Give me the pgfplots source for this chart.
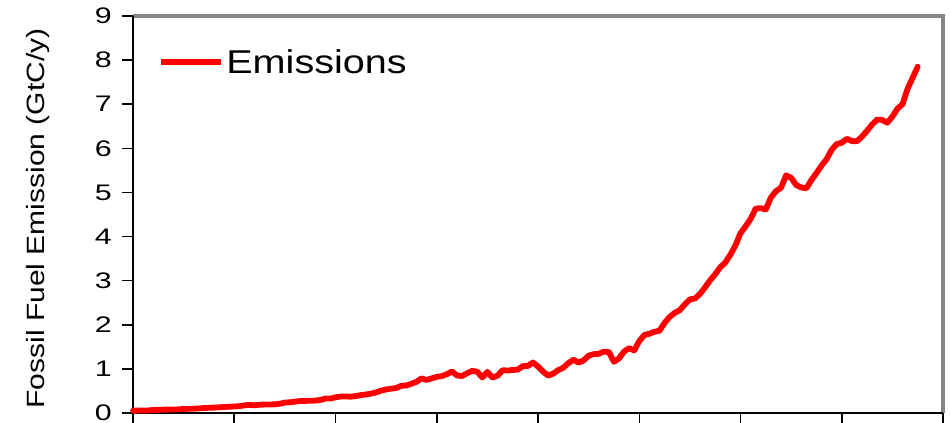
\documentclass[border=0pt]{standalone}
\usepackage{pgfplots}
\pgfplotsset{compat=1.18}
\usepackage{fontspec}
\setmainfont[FakeStretch=1.2]{Liberation Sans}
\newfontfamily\tickfont[FakeStretch=1.35]{Liberation Sans}
\begin{document}
\begin{tikzpicture}
\begin{axis}[
  scale only axis, width=810pt, height=397pt,
  xmin=1850, xmax=2010, ymin=0, ymax=9,
  xtick={1850,1870,...,2010}, xticklabels={},
  ytick={0,1,...,9},
  xtick pos=bottom, ytick pos=left,
  tick align=outside, major tick length=11pt,
  tick style={black, line width=1.5pt},
  axis line style={draw=none},
  clip=false,
  /pgf/number format/assume math mode=true,
  yticklabel style={font=\tickfont\fontsize{22.5}{26}\selectfont, inner sep=0pt, xshift=-10pt},
  ylabel={Fossil Fuel Emission (GtC/y)},
  ylabel style={font=\fontsize{25}{30}\selectfont, at={([xshift=-88pt]rel axis cs:0,0.49)}, anchor=base},
  legend style={draw=none, fill=none, at={(rel axis cs:0.031,0.884)}, anchor=west, inner sep=0pt,
    font=\fontsize{33}{40}\selectfont},
  legend image code/.code={\draw[#1, line width=6pt, line cap=butt] (0pt,0pt) -- (60pt,0pt);},
]
\draw[color=gray!95, line width=4pt] (rel axis cs:0,1) -- (rel axis cs:1,1) -- (rel axis cs:1,0);
\draw[black, line width=2.5pt] (rel axis cs:0,1) -- (rel axis cs:0,0) -- (rel axis cs:1,0);
\addplot[red, line width=5.8pt, line join=round, line cap=round] table {
1850 0.054
1851 0.054
1852 0.057
1853 0.059
1854 0.069
1855 0.071
1856 0.076
1857 0.077
1858 0.078
1859 0.083
1860 0.091
1861 0.095
1862 0.097
1863 0.104
1864 0.112
1865 0.119
1866 0.122
1867 0.130
1868 0.135
1869 0.142
1870 0.147
1871 0.156
1872 0.173
1873 0.184
1874 0.174
1875 0.188
1876 0.191
1877 0.194
1878 0.196
1879 0.210
1880 0.236
1881 0.243
1882 0.256
1883 0.272
1884 0.275
1885 0.277
1886 0.281
1887 0.295
1888 0.327
1889 0.327
1890 0.356
1891 0.372
1892 0.374
1893 0.370
1894 0.383
1895 0.406
1896 0.419
1897 0.440
1898 0.465
1899 0.507
1900 0.534
1901 0.552
1902 0.566
1903 0.617
1904 0.624
1905 0.663
1906 0.707
1907 0.784
1908 0.750
1909 0.785
1910 0.819
1911 0.836
1912 0.879
1913 0.943
1914 0.850
1915 0.838
1916 0.901
1917 0.955
1918 0.936
1919 0.806
1920 0.932
1921 0.803
1922 0.845
1923 0.970
1924 0.963
1925 0.975
1926 0.983
1927 1.062
1928 1.065
1929 1.145
1930 1.053
1931 0.940
1932 0.847
1933 0.893
1934 0.973
1935 1.027
1936 1.130
1937 1.209
1938 1.142
1939 1.192
1940 1.299
1941 1.334
1942 1.342
1943 1.391
1944 1.383
1945 1.160
1946 1.238
1947 1.392
1948 1.469
1949 1.419
1950 1.630
1951 1.768
1952 1.796
1953 1.841
1954 1.865
1955 2.043
1956 2.178
1957 2.270
1958 2.330
1959 2.462
1960 2.577
1961 2.594
1962 2.700
1963 2.848
1964 3.008
1965 3.145
1966 3.305
1967 3.411
1968 3.588
1969 3.800
1970 4.076
1971 4.231
1972 4.399
1973 4.635
1974 4.644
1975 4.615
1976 4.883
1977 5.029
1978 5.105
1979 5.387
1980 5.332
1981 5.168
1982 5.113
1983 5.094
1984 5.280
1985 5.439
1986 5.607
1987 5.752
1988 5.965
1989 6.097
1990 6.127
1991 6.217
1992 6.164
1993 6.162
1994 6.266
1995 6.398
1996 6.542
1997 6.651
1998 6.643
1999 6.580
2000 6.720
2001 6.900
2002 7.000
2003 7.350
2004 7.600
2005 7.850
};
\addlegendentry{Emissions}
\end{axis}
\pgfresetboundingbox
\path[use as bounding box] (-133pt,-10pt) rectangle (818pt,413pt);
\end{tikzpicture}
\end{document}
